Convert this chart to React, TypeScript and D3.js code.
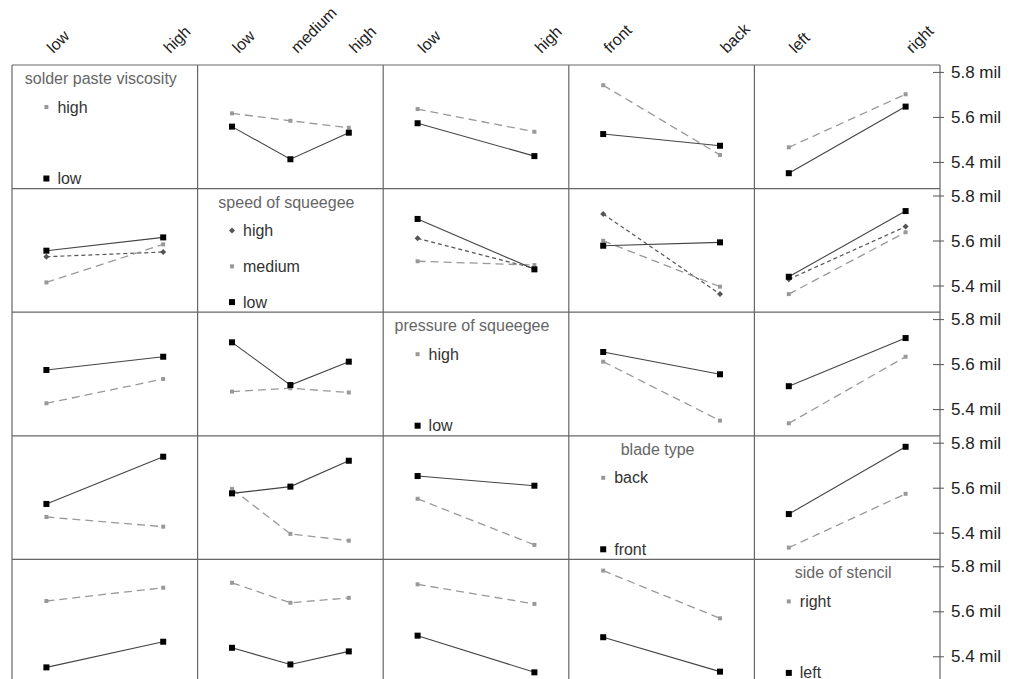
import React from "react";
import * as d3 from "d3";

const factorNames = ["solder paste viscosity", "speed of squeegee", "pressure of squeegee", "blade type", "side of stencil"];
const viscosityLevels = ["low", "high"];
const speedLevels = ["low", "medium", "high"];
const pressureLevels = ["low", "high"];
const bladeLevels = ["front", "back"];
const sideLevels = ["left", "right"];
const factorLevels = [viscosityLevels, speedLevels, pressureLevels, bladeLevels, sideLevels];

const yTicks = [5.8, 5.6, 5.4];

// Row 0: grouped by viscosity (low, high)
const viscosityBySpeed = [[5.559, 5.414, 5.532], [5.618, 5.585, 5.554]];
const viscosityByPressure = [[5.574, 5.428], [5.637, 5.536]];
const viscosityByBlade = [[5.526, 5.474], [5.743, 5.433]];
const viscosityBySide = [[5.352, 5.648], [5.467, 5.703]];
// Row 1: grouped by speed (low, medium, high)
const speedByViscosity = [[5.557, 5.616], [5.416, 5.585], [5.530, 5.551]];
const speedByPressure = [[5.698, 5.474], [5.510, 5.493], [5.612, 5.478]];
const speedByBlade = [[5.579, 5.594], [5.601, 5.397], [5.720, 5.364]];
const speedBySide = [[5.441, 5.733], [5.364, 5.639], [5.430, 5.664]];
// Row 2: grouped by pressure (low, high)
const pressureByViscosity = [[5.576, 5.635], [5.428, 5.536]];
const pressureBySpeed = [[5.699, 5.509, 5.613], [5.480, 5.495, 5.476]];
const pressureByBlade = [[5.656, 5.557], [5.613, 5.351]];
const pressureBySide = [[5.504, 5.718], [5.339, 5.635]];
// Row 3: grouped by blade (front, back)
const bladeByViscosity = [[5.530, 5.740], [5.472, 5.429]];
const bladeBySpeed = [[5.577, 5.607, 5.722], [5.597, 5.397, 5.367]];
const bladeByPressure = [[5.654, 5.611], [5.553, 5.348]];
const bladeBySide = [[5.485, 5.784], [5.336, 5.575]];
// Row 4: grouped by side (left, right)
const sideByViscosity = [[5.353, 5.467], [5.648, 5.707]];
const sideBySpeed = [[5.440, 5.366, 5.424], [5.729, 5.640, 5.662]];
const sideByPressure = [[5.494, 5.331], [5.722, 5.635]];
const sideByBlade = [[5.487, 5.334], [5.783, 5.571]];

const panels: (number[][] | null)[][] = [
  [null, viscosityBySpeed, viscosityByPressure, viscosityByBlade, viscosityBySide],
  [speedByViscosity, null, speedByPressure, speedByBlade, speedBySide],
  [pressureByViscosity, pressureBySpeed, null, pressureByBlade, pressureBySide],
  [bladeByViscosity, bladeBySpeed, bladeByPressure, null, bladeBySide],
  [sideByViscosity, sideBySpeed, sideByPressure, sideByBlade, null],
];

const W = 1016, H = 679;
const gLeft = 12, gRight = 940, gTop = 65, rowH = 123.6;
const colW = (gRight - gLeft) / 5;
const inset = 34.4;
const FONT = "'Liberation Sans', Arial, sans-serif";

const styles = [
  { stroke: "#444", dash: "none", width: 1.1, marker: "square", mfill: "#000", msize: 6 },
  { stroke: "#999", dash: "8,5", width: 1.3, marker: "square", mfill: "#999", msize: 4 },
  { stroke: "#555", dash: "4,3", width: 1.2, marker: "diamond", mfill: "#555", msize: 5 },
];

function Marker({ x, y, s }: { x: number; y: number; s: typeof styles[0] }) {
  if (s.marker === "diamond") {
    const r = s.msize / 2 + 0.5;
    return <path d={`M${x},${y - r}L${x + r},${y}L${x},${y + r}L${x - r},${y}Z`} fill={s.mfill} />;
  }
  return <rect x={x - s.msize / 2} y={y - s.msize / 2} width={s.msize} height={s.msize} fill={s.mfill} />;
}

export default function App() {
  const xScales = factorLevels.map((lv, j) =>
    d3.scalePoint<string>().domain(lv).range([gLeft + j * colW + inset, gLeft + (j + 1) * colW - inset]).padding(0)
  );
  const yScales = [0, 1, 2, 3, 4].map((i) =>
    d3.scaleLinear().domain([5.8, 5.4]).range([gTop + i * rowH + 7.4, gTop + i * rowH + 7.4 + 90])
  );

  const elems: React.ReactNode[] = [];

  // top axis labels
  factorLevels.forEach((lv, j) => {
    lv.forEach((l) => {
      const x = (xScales[j](l) as number) + 7;
      const y = 54;
      elems.push(
        <text key={`tl-${j}-${l}`} x={x} y={y} transform={`rotate(-45,${x},${y})`} fontSize={16} fill="#222" fontFamily={FONT}>
          {l}
        </text>
      );
    });
  });

  for (let i = 0; i < 5; i++) {
    const y = yScales[i];
    const rowTop = gTop + i * rowH;
    for (let j = 0; j < 5; j++) {
      const data = panels[i][j];
      const xs = xScales[j];
      const colLeft = gLeft + j * colW;
      if (!data) {
        // legend
        const lv = factorLevels[i];
        const cx = colLeft + colW / 2 - 4;
        elems.push(
          <text key={`lt-${i}`} x={cx} y={rowTop + 19} textAnchor="middle" fontSize={16} fill="#666" fontFamily={FONT}>
            {factorNames[i]}
          </text>
        );
        const ly = d3.scaleLinear().domain([lv.length - 1, 0]).range([rowTop + 42, rowTop + 113.5]);
        const mx = xs(lv[0]) as number;
        lv.forEach((l, k) => {
          const s = styles[k];
          elems.push(<Marker key={`lm-${i}-${k}`} x={mx} y={ly(k)} s={s} />);
          elems.push(
            <text key={`ll-${i}-${k}`} x={mx + 11} y={ly(k)} dominantBaseline="central" fontSize={16} fill="#333" fontFamily={FONT}>
              {l}
            </text>
          );
        });
        continue;
      }
      const xl = factorLevels[j];
      const line = d3
        .line<number>()
        .x((_, k) => xs(xl[k]) as number)
        .y((v) => y(v));
      for (let g = data.length - 1; g >= 0; g--) {
        const s = styles[g];
        elems.push(
          <path key={`p-${i}-${j}-${g}`} d={line(data[g]) || ""} fill="none" stroke={s.stroke} strokeWidth={s.width} strokeDasharray={s.dash} />
        );
        data[g].forEach((v, k) => {
          elems.push(<Marker key={`m-${i}-${j}-${g}-${k}`} x={xs(xl[k]) as number} y={y(v)} s={s} />);
        });
      }
    }
    // right axis ticks
    yTicks.forEach((t) => {
      elems.push(<line key={`tk-${i}-${t}`} x1={933} x2={944} y1={y(t)} y2={y(t)} stroke="#555" strokeWidth={1} />);
      elems.push(
        <text key={`tt-${i}-${t}`} x={951} y={y(t)} dominantBaseline="central" fontSize={17} fill="#222" fontFamily={FONT}>
          {`${t.toFixed(1)} mil`}
        </text>
      );
    });
  }

  // grid lines
  const grid: React.ReactNode[] = [];
  for (let j = 0; j <= 5; j++) {
    const x = gLeft + j * colW;
    grid.push(<line key={`gv-${j}`} x1={x} x2={x} y1={gTop} y2={gTop + 5 * rowH} stroke="#666" strokeWidth={1.2} />);
  }
  for (let i = 0; i <= 5; i++) {
    const yy = gTop + i * rowH;
    grid.push(<line key={`gh-${i}`} x1={gLeft} x2={gRight} y1={yy} y2={yy} stroke="#666" strokeWidth={1.2} />);
  }

  return (
    <svg width={W} height={H} style={{ position: "absolute", left: 0, top: 0, background: "#fff" }}>
      <rect width={W} height={H} fill="#fff" />
      {grid}
      {elems}
    </svg>
  );
}
